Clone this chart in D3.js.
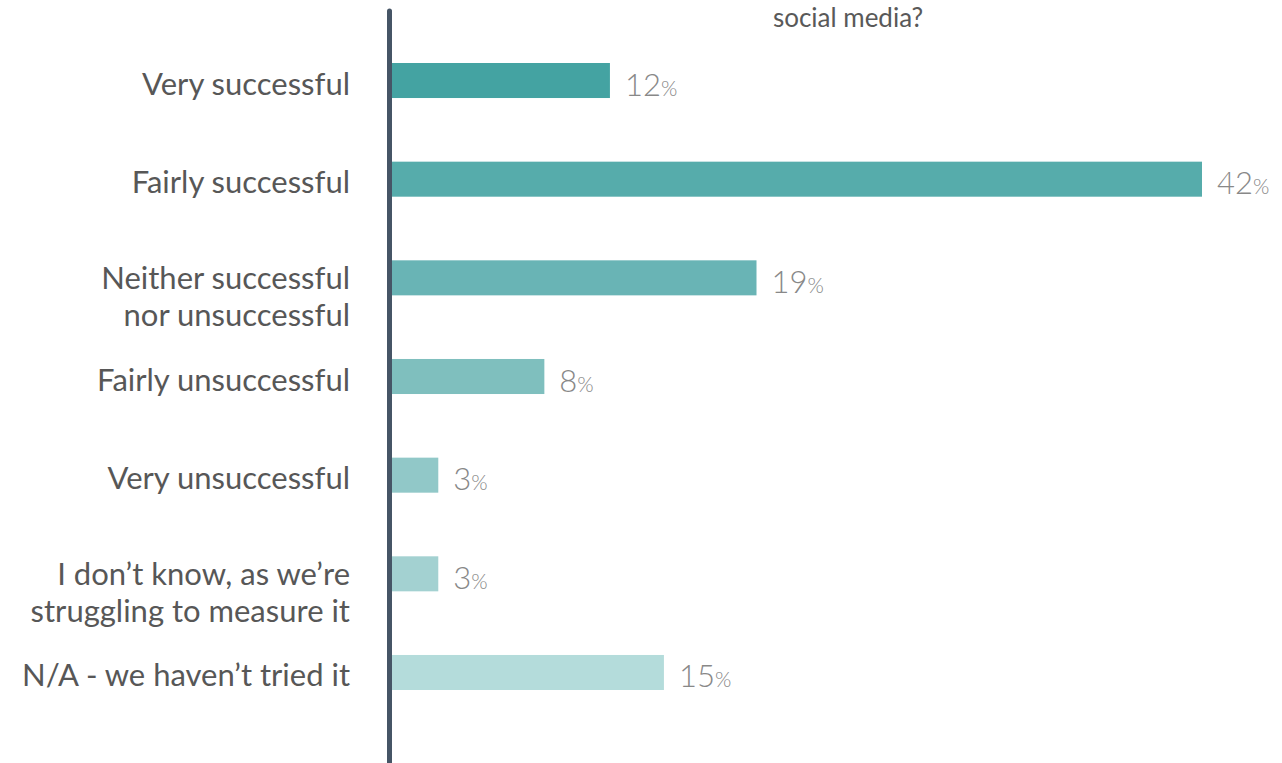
<!DOCTYPE html>
<html>
<head>
<meta charset="utf-8">
<script src="https://cdn.jsdelivr.net/npm/d3@7"></script>
<style>
  body { margin: 0; background: #fff; }
  svg { display: block; font-family: Lato, "Open Sans", sans-serif; }
</style>
</head>
<body>
<svg id="chart" width="1282" height="763"></svg>
<script>
// answers, top to bottom (multi-line labels split on |)
var categories = [
  "Very successful",
  "Fairly successful",
  "Neither successful|nor unsuccessful",
  "Fairly unsuccessful",
  "Very unsuccessful",
  "I don\u2019t know, as we\u2019re|struggling to measure it",
  "N/A - we haven\u2019t tried it"
];
// bar lengths (percent)
var values = [11.3, 42, 18.9, 7.9, 2.4, 2.4, 14.1];
// printed labels next to the bars
var valueLabels = ["12", "42", "19", "8", "3", "3", "15"];
var colors = ["#44a3a2", "#56acab", "#69b4b5", "#7fbfbe", "#91c8c8", "#a3d1d1", "#b4dcdb"];
var titleTail = "social media?";

var svg = d3.select('#chart');

var x = d3.scaleLinear()
  .domain([0, d3.max(values)])
  .range([392, 1202]);

var y = d3.scaleBand()
  .domain(categories)
  .range([63, 690])
  .paddingInner(0.645)
  .paddingOuter(0);

// bars
svg.append('g').attr('class', 'bars')
  .selectAll('rect')
  .data(values)
  .enter()
  .append('rect')
  .attr('x', x(0))
  .attr('y', function(d, i){ return y(categories[i]); })
  .attr('width', function(d){ return x(d) - x(0); })
  .attr('height', y.bandwidth())
  .attr('fill', function(d, i){ return colors[i]; });

// value labels, small % sign
var vl = svg.append('g').attr('class', 'values')
  .selectAll('text')
  .data(values)
  .enter()
  .append('text')
  .attr('x', function(d){ return x(d) + 15; })
  .attr('y', function(d, i){ return y(categories[i]) + y.bandwidth() / 2 + 15; })
  .attr('fill', '#888888')
  .attr('font-weight', 300)
  .attr('font-size', 31);
vl.append('tspan').text(function(d, i){ return valueLabels[i]; });
vl.append('tspan').attr('font-size', 21).text('%');

// category labels
var cl = svg.append('g').attr('class', 'cats')
  .selectAll('text')
  .data(categories)
  .enter()
  .append('text')
  .attr('text-anchor', 'end')
  .attr('fill', '#575757')
  .attr('font-size', 31)
  .attr('y', function(d){
    var c = y(d) + y.bandwidth() / 2;
    return d.indexOf('|') < 0 ? c + 14 : c + 11;
  });
cl.selectAll('tspan')
  .data(function(d){ return d.split('|'); })
  .enter()
  .append('tspan')
  .attr('x', 350)
  .attr('dy', function(d, i){ return i ? 37 : 0; })
  .text(function(d){ return d; });

// vertical axis line
svg.append('line')
  .attr('x1', 389.5).attr('x2', 389.5)
  .attr('y1', 11).attr('y2', 770)
  .attr('stroke', '#465566')
  .attr('stroke-width', 5)
  .attr('stroke-linecap', 'round');

// last line of the title (the rest sits above the frame)
svg.append('text')
  .attr('x', 848)
  .attr('y', 27)
  .attr('text-anchor', 'middle')
  .attr('fill', '#595959')
  .attr('font-size', 26)
  .text(titleTail);
</script>
</body>
</html>
